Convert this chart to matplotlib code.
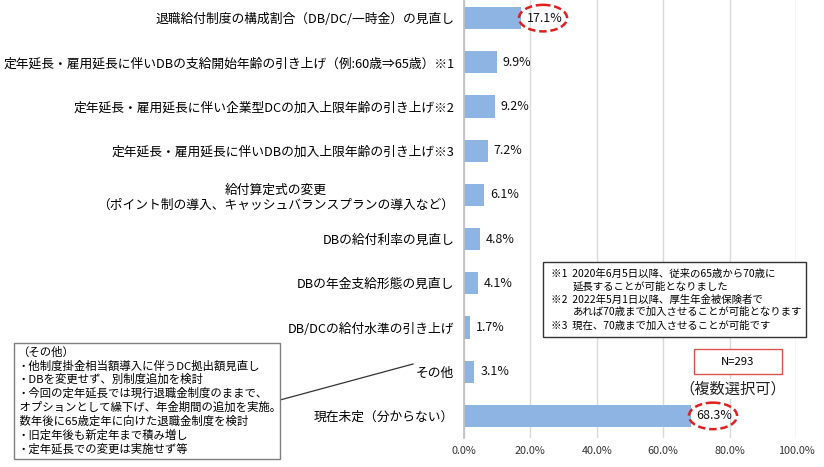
import matplotlib
matplotlib.use("Agg")
import matplotlib.pyplot as plt
from matplotlib.patches import Ellipse, Rectangle
from matplotlib.lines import Line2D

plt.rcParams['font.family'] = ['Noto Sans CJK JP', 'DejaVu Sans']

# ---- data ----
categories = [
    "退職給付制度の構成割合（DB/DC/一時金）の見直し",
    "定年延長・雇用延長に伴いDBの支給開始年齢の引き上げ（例:60歳⇒65歳）※1",
    "定年延長・雇用延長に伴い企業型DCの加入上限年齢の引き上げ※2",
    "定年延長・雇用延長に伴いDBの加入上限年齢の引き上げ※3",
    "給付算定式の変更\n（ポイント制の導入、キャッシュバランスプランの導入など）",
    "DBの給付利率の見直し",
    "DBの年金支給形態の見直し",
    "DB/DCの給付水準の引き上げ",
    "その他",
    "現在未定（分からない）",
]
values = [17.1, 9.9, 9.2, 7.2, 6.1, 4.8, 4.1, 1.7, 3.1, 68.3]
highlighted = [0, 9]
xticks = [0, 20, 40, 60, 80, 100]

note_lines = [
    "※1  2020年6月5日以降、従来の65歳から70歳に",
    "延長することが可能となりました",
    "※2  2022年5月1日以降、厚生年金被保険者で",
    "あれば70歳まで加入させることが可能となります",
    "※3  現在、70歳まで加入させることが可能です",
]
note_indent = [False, True, False, True, False]
other_lines = [
    "（その他）",
    "・他制度掛金相当額導入に伴うDC拠出額見直し",
    "・DBを変更せず、別制度追加を検討",
    "・今回の定年延長では現行退職金制度のままで、",
    " オプションとして繰下げ、年金期間の追加を実施。",
    " 数年後に65歳定年に向けた退職金制度を検討",
    "・旧定年後も新定年まで積み増し",
    "・定年延長での変更は実施せず等",
]
n_text = "N=293"
multi_text = "（複数選択可）"

W, H = 824, 467
fig = plt.figure(figsize=(W / 100, H / 100), dpi=100)


def fx(x):
    return x / W


def fy(y):
    return 1 - y / H


ax = fig.add_axes([fx(464), fy(438), fx(796) - fx(464), fy(0) - fy(438)])

ypos = list(range(len(categories)))
ax.barh(ypos, values, height=0.5, color="#8DB4E2", zorder=2)

for i, v in enumerate(values):
    ax.text(v + 1.8, i, f"{v:.1f}%", va="center", ha="left", fontsize=9,
            color="#111111", zorder=4)
for i in highlighted:
    ax.add_patch(Ellipse((values[i] + 6.7, i), 14.5, 0.6, fill=False,
                         edgecolor="#E02020", linestyle=(0, (3, 1.5)),
                         linewidth=1.8, zorder=4))

ax.set_xlim(0, 100)
ax.set_ylim(9.5, -0.41)
ax.set_xticks(xticks)
ax.set_xticklabels([f"{t:.1f}%" for t in xticks], fontsize=7.8, color="#333333")
ax.set_yticks(ypos)
ax.set_yticklabels(categories, fontsize=9.2, multialignment="center", color="#000000")
ax.tick_params(axis="both", length=0)
ax.tick_params(axis="y", pad=7)
ax.tick_params(axis="x", pad=6)
ax.xaxis.grid(True, color="#D9D9D9", linewidth=1, zorder=0)
ax.set_axisbelow(True)
for s in ["top", "right", "bottom"]:
    ax.spines[s].set_visible(False)
ax.spines["left"].set_color("#BFBFBF")
ax.spines["left"].set_linewidth(1.2)

# note box (※)
fig.add_artist(Rectangle((fx(543), fy(337)), fx(806) - fx(543), fy(262) - fy(337),
                         transform=fig.transFigure, facecolor="white",
                         edgecolor="#333333", linewidth=1, zorder=5))
note_y = [274, 286, 300, 312, 326]
for line, y, ind in zip(note_lines, note_y, note_indent):
    fig.text(fx(573 if ind else 551), fy(y), line, fontsize=7.5, va="center",
             ha="left", color="#000000", zorder=6)

# N box
fig.add_artist(Rectangle((fx(694), fy(374)), fx(782) - fx(694), fy(349) - fy(374),
                         transform=fig.transFigure, facecolor="white",
                         edgecolor="#D9534F", linewidth=1, zorder=5))
fig.text(fx(738), fy(362), n_text, fontsize=8.2, ha="center", va="center", zorder=6)
fig.text(fx(733), fy(389), multi_text, fontsize=11, ha="center", va="center",
         color="#222222", zorder=6,
         bbox=dict(facecolor="white", edgecolor="none", pad=1))

# その他 box
fig.add_artist(Rectangle((fx(14), fy(459)), fx(280) - fx(14), fy(343) - fy(459),
                         transform=fig.transFigure, facecolor="white",
                         edgecolor="#7F7F7F", linewidth=1, zorder=5))
for k, line in enumerate(other_lines):
    fig.text(fx(17), fy(352 + k * 13.8), line, fontsize=8.2, va="center",
             ha="left", color="#000000", zorder=6)
fig.add_artist(Line2D([fx(280), fx(413)], [fy(400), fy(364)],
                      transform=fig.transFigure, color="#333333", linewidth=0.9))

fig.savefig("out.png", dpi=100)
